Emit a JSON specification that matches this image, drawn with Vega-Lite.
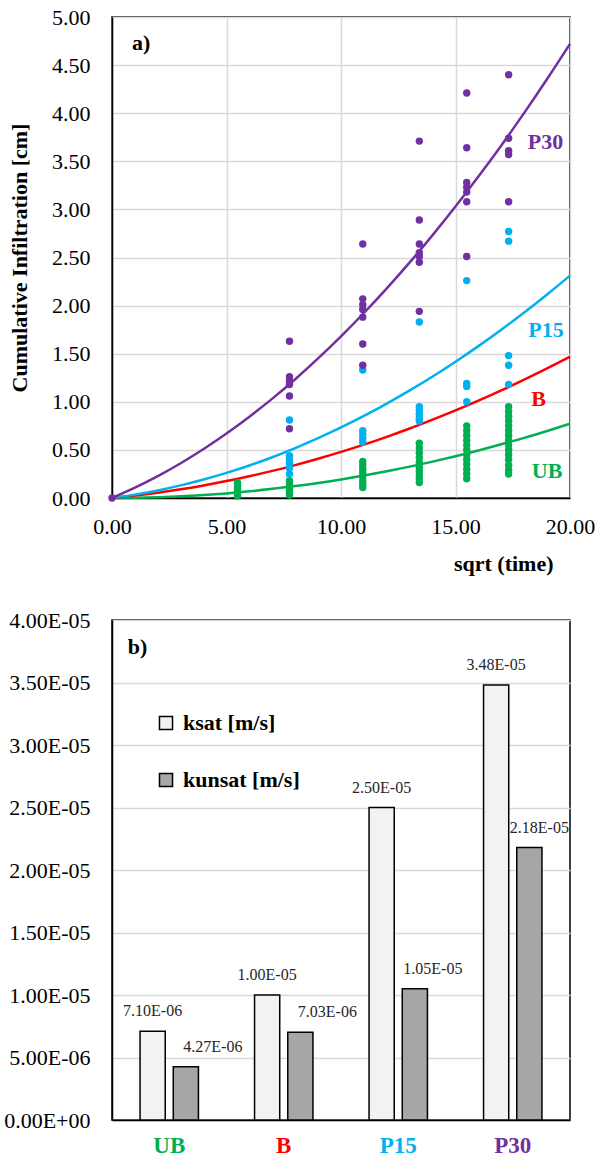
{
  "$schema": "https://vega.github.io/schema/vega-lite/v6.json",
  "background": "white",
  "padding": {"left": 2, "top": 5, "right": 5, "bottom": 0},
  "spacing": 33,
  "resolve": {"scale": {"color": "independent"}, "legend": {"color": "independent"}},
  "config": {
    "font": "Liberation Serif",
    "view": {"stroke": "black", "strokeWidth": 1.5},
    "axis": {
      "domainColor": "black", "domainWidth": 1.5, "ticks": false, "labelFlush": false,
      "gridColor": "#D9D9D9", "gridWidth": 1.5,
      "labelFont": "Liberation Serif", "labelFontSize": 22,
      "titleFont": "Liberation Serif", "titleFontSize": 22, "titleFontWeight": "bold", "titleColor": "black"
    }
  },
  "datasets": {
    "pts": [
      {"s":"UB","x":5.48,"y":0.16},{"s":"UB","x":5.48,"y":0.13},{"s":"UB","x":5.48,"y":0.10},{"s":"UB","x":5.48,"y":0.07},{"s":"UB","x":5.48,"y":0.04},{"s":"UB","x":5.48,"y":0.02},
      {"s":"UB","x":7.75,"y":0.18},{"s":"UB","x":7.75,"y":0.15},{"s":"UB","x":7.75,"y":0.12},{"s":"UB","x":7.75,"y":0.09},{"s":"UB","x":7.75,"y":0.06},{"s":"UB","x":7.75,"y":0.03},
      {"s":"UB","x":10.95,"y":0.38},{"s":"UB","x":10.95,"y":0.34},{"s":"UB","x":10.95,"y":0.30},{"s":"UB","x":10.95,"y":0.26},{"s":"UB","x":10.95,"y":0.22},{"s":"UB","x":10.95,"y":0.18},{"s":"UB","x":10.95,"y":0.14},{"s":"UB","x":10.95,"y":0.11},
      {"s":"UB","x":13.42,"y":0.57},{"s":"UB","x":13.42,"y":0.52},{"s":"UB","x":13.42,"y":0.47},{"s":"UB","x":13.42,"y":0.42},{"s":"UB","x":13.42,"y":0.37},{"s":"UB","x":13.42,"y":0.32},{"s":"UB","x":13.42,"y":0.28},{"s":"UB","x":13.42,"y":0.24},{"s":"UB","x":13.42,"y":0.20},{"s":"UB","x":13.42,"y":0.16},
      {"s":"UB","x":15.49,"y":0.75},{"s":"UB","x":15.49,"y":0.70},{"s":"UB","x":15.49,"y":0.65},{"s":"UB","x":15.49,"y":0.60},{"s":"UB","x":15.49,"y":0.55},{"s":"UB","x":15.49,"y":0.50},{"s":"UB","x":15.49,"y":0.45},{"s":"UB","x":15.49,"y":0.40},{"s":"UB","x":15.49,"y":0.35},{"s":"UB","x":15.49,"y":0.30},{"s":"UB","x":15.49,"y":0.25},{"s":"UB","x":15.49,"y":0.20},
      {"s":"UB","x":17.32,"y":0.95},{"s":"UB","x":17.32,"y":0.90},{"s":"UB","x":17.32,"y":0.85},{"s":"UB","x":17.32,"y":0.80},{"s":"UB","x":17.32,"y":0.75},{"s":"UB","x":17.32,"y":0.70},{"s":"UB","x":17.32,"y":0.65},{"s":"UB","x":17.32,"y":0.60},{"s":"UB","x":17.32,"y":0.55},{"s":"UB","x":17.32,"y":0.50},{"s":"UB","x":17.32,"y":0.45},{"s":"UB","x":17.32,"y":0.40},{"s":"UB","x":17.32,"y":0.34},{"s":"UB","x":17.32,"y":0.29},{"s":"UB","x":17.32,"y":0.25},
      {"s":"P15","x":7.75,"y":0.81},{"s":"P15","x":7.75,"y":0.44},{"s":"P15","x":7.75,"y":0.40},{"s":"P15","x":7.75,"y":0.36},{"s":"P15","x":7.75,"y":0.31},{"s":"P15","x":7.75,"y":0.25},
      {"s":"P15","x":10.95,"y":1.33},{"s":"P15","x":10.95,"y":0.70},{"s":"P15","x":10.95,"y":0.66},{"s":"P15","x":10.95,"y":0.62},{"s":"P15","x":10.95,"y":0.58},
      {"s":"P15","x":13.42,"y":1.83},{"s":"P15","x":13.42,"y":0.95},{"s":"P15","x":13.42,"y":0.91},{"s":"P15","x":13.42,"y":0.87},{"s":"P15","x":13.42,"y":0.83},{"s":"P15","x":13.42,"y":0.80},
      {"s":"P15","x":15.49,"y":2.26},{"s":"P15","x":15.49,"y":1.19},{"s":"P15","x":15.49,"y":1.16},{"s":"P15","x":15.49,"y":1.00},
      {"s":"P15","x":17.32,"y":2.77},{"s":"P15","x":17.32,"y":2.67},{"s":"P15","x":17.32,"y":1.48},{"s":"P15","x":17.32,"y":1.38},{"s":"P15","x":17.32,"y":1.18},
      {"s":"P30","x":0,"y":0},
      {"s":"P30","x":7.75,"y":1.63},{"s":"P30","x":7.75,"y":1.26},{"s":"P30","x":7.75,"y":1.22},{"s":"P30","x":7.75,"y":1.18},{"s":"P30","x":7.75,"y":1.06},{"s":"P30","x":7.75,"y":0.72},
      {"s":"P30","x":10.95,"y":2.64},{"s":"P30","x":10.95,"y":2.07},{"s":"P30","x":10.95,"y":2.01},{"s":"P30","x":10.95,"y":1.96},{"s":"P30","x":10.95,"y":1.88},{"s":"P30","x":10.95,"y":1.60},{"s":"P30","x":10.95,"y":1.38},
      {"s":"P30","x":13.42,"y":3.71},{"s":"P30","x":13.42,"y":2.89},{"s":"P30","x":13.42,"y":2.64},{"s":"P30","x":13.42,"y":2.55},{"s":"P30","x":13.42,"y":2.51},{"s":"P30","x":13.42,"y":2.45},{"s":"P30","x":13.42,"y":1.94},
      {"s":"P30","x":15.49,"y":4.21},{"s":"P30","x":15.49,"y":3.64},{"s":"P30","x":15.49,"y":3.28},{"s":"P30","x":15.49,"y":3.23},{"s":"P30","x":15.49,"y":3.18},{"s":"P30","x":15.49,"y":3.08},{"s":"P30","x":15.49,"y":2.51},
      {"s":"P30","x":17.32,"y":4.40},{"s":"P30","x":17.32,"y":3.74},{"s":"P30","x":17.32,"y":3.61},{"s":"P30","x":17.32,"y":3.57},{"s":"P30","x":17.32,"y":3.08}
    ],
    "curves": [
      {"s":"UB","x":0,"y":0},{"s":"UB","x":1,"y":0.002},{"s":"UB","x":2,"y":0.008},{"s":"UB","x":3,"y":0.017},{"s":"UB","x":4,"y":0.031},{"s":"UB","x":5,"y":0.048},{"s":"UB","x":6,"y":0.069},{"s":"UB","x":7,"y":0.095},{"s":"UB","x":8,"y":0.124},{"s":"UB","x":9,"y":0.156},{"s":"UB","x":10,"y":0.193},{"s":"UB","x":11,"y":0.234},{"s":"UB","x":12,"y":0.278},{"s":"UB","x":13,"y":0.326},{"s":"UB","x":14,"y":0.378},{"s":"UB","x":15,"y":0.434},{"s":"UB","x":16,"y":0.494},{"s":"UB","x":17,"y":0.558},{"s":"UB","x":18,"y":0.625},{"s":"UB","x":19,"y":0.697},{"s":"UB","x":20,"y":0.772},
      {"s":"B","x":0,"y":0},{"s":"B","x":1,"y":0.025},{"s":"B","x":2,"y":0.055},{"s":"B","x":3,"y":0.090},{"s":"B","x":4,"y":0.130},{"s":"B","x":5,"y":0.176},{"s":"B","x":6,"y":0.226},{"s":"B","x":7,"y":0.282},{"s":"B","x":8,"y":0.342},{"s":"B","x":9,"y":0.408},{"s":"B","x":10,"y":0.479},{"s":"B","x":11,"y":0.555},{"s":"B","x":12,"y":0.636},{"s":"B","x":13,"y":0.722},{"s":"B","x":14,"y":0.814},{"s":"B","x":15,"y":0.910},{"s":"B","x":16,"y":1.012},{"s":"B","x":17,"y":1.119},{"s":"B","x":18,"y":1.231},{"s":"B","x":19,"y":1.348},{"s":"B","x":20,"y":1.470},
      {"s":"P15","x":0,"y":0},{"s":"P15","x":1,"y":0.035},{"s":"P15","x":2,"y":0.079},{"s":"P15","x":3,"y":0.131},{"s":"P15","x":4,"y":0.192},{"s":"P15","x":5,"y":0.261},{"s":"P15","x":6,"y":0.338},{"s":"P15","x":7,"y":0.424},{"s":"P15","x":8,"y":0.519},{"s":"P15","x":9,"y":0.622},{"s":"P15","x":10,"y":0.733},{"s":"P15","x":11,"y":0.853},{"s":"P15","x":12,"y":0.981},{"s":"P15","x":13,"y":1.118},{"s":"P15","x":14,"y":1.263},{"s":"P15","x":15,"y":1.417},{"s":"P15","x":16,"y":1.579},{"s":"P15","x":17,"y":1.749},{"s":"P15","x":18,"y":1.928},{"s":"P15","x":19,"y":2.116},{"s":"P15","x":20,"y":2.312},
      {"s":"P30","x":0,"y":0},{"s":"P30","x":1,"y":0.107},{"s":"P30","x":2,"y":0.227},{"s":"P30","x":3,"y":0.361},{"s":"P30","x":4,"y":0.509},{"s":"P30","x":5,"y":0.670},{"s":"P30","x":6,"y":0.845},{"s":"P30","x":7,"y":1.033},{"s":"P30","x":8,"y":1.235},{"s":"P30","x":9,"y":1.451},{"s":"P30","x":10,"y":1.680},{"s":"P30","x":11,"y":1.923},{"s":"P30","x":12,"y":2.179},{"s":"P30","x":13,"y":2.449},{"s":"P30","x":14,"y":2.733},{"s":"P30","x":15,"y":3.030},{"s":"P30","x":16,"y":3.341},{"s":"P30","x":17,"y":3.665},{"s":"P30","x":18,"y":4.003},{"s":"P30","x":19,"y":4.355},{"s":"P30","x":20,"y":4.720}
    ],
    "tags": [
      {"s":"P30","x":18.93,"y":3.70},
      {"s":"P15","x":18.95,"y":1.75},
      {"s":"B","x":18.63,"y":1.03},
      {"s":"UB","x":19.0,"y":0.28}
    ],
    "bars": [
      {"site":"UB","param":"ksat [m/s]","k":7.10e-6,"label":"7.10E-06"},
      {"site":"UB","param":"kunsat [m/s]","k":4.27e-6,"label":"4.27E-06"},
      {"site":"B","param":"ksat [m/s]","k":1.00e-5,"label":"1.00E-05"},
      {"site":"B","param":"kunsat [m/s]","k":7.03e-6,"label":"7.03E-06"},
      {"site":"P15","param":"ksat [m/s]","k":2.50e-5,"label":"2.50E-05"},
      {"site":"P15","param":"kunsat [m/s]","k":1.05e-5,"label":"1.05E-05"},
      {"site":"P30","param":"ksat [m/s]","k":3.48e-5,"label":"3.48E-05"},
      {"site":"P30","param":"kunsat [m/s]","k":2.18e-5,"label":"2.18E-05"}
    ]
  },
  "vconcat": [
    {
      "width": 458,
      "height": 481,
      "encoding": {
        "x": {"field": "x", "type": "quantitative",
          "scale": {"domain": [0, 20], "nice": false},
          "axis": {"title": "sqrt (time)", "values": [0, 5, 10, 15, 20], "format": ".2f", "labelColor": "black", "labelPadding": 18, "titlePadding": 16, "titleX": 441, "titleAlign": "right", "titleAnchor": "end"}},
        "y": {"field": "y", "type": "quantitative",
          "scale": {"domain": [0, 5], "nice": false},
          "axis": {"title": "Cumulative Infiltration [cm]", "values": [0, 0.5, 1, 1.5, 2, 2.5, 3, 3.5, 4, 4.5, 5], "format": ".2f", "labelColor": "black", "labelPadding": 22, "titlePadding": 20}}
      },
      "layer": [
        {
          "data": {"name": "curves"},
          "mark": {"type": "line", "strokeWidth": 2.5, "interpolate": "monotone"},
          "encoding": {
            "color": {"field": "s", "type": "nominal", "scale": {"domain": ["UB", "B", "P15", "P30"], "range": ["#00B050", "#FF0000", "#00B0F0", "#7030A0"]}, "legend": null}
          }
        },
        {
          "data": {"name": "pts"},
          "mark": {"type": "circle", "size": 55, "opacity": 1},
          "encoding": {
            "color": {"field": "s", "type": "nominal", "legend": null}
          }
        },
        {
          "data": {"name": "tags"},
          "mark": {"type": "text", "fontSize": 22, "fontWeight": "bold", "font": "Liberation Serif", "baseline": "middle"},
          "encoding": {
            "text": {"field": "s"},
            "color": {"field": "s", "type": "nominal", "legend": null}
          }
        },
        {
          "data": {"values": [{"x": 0.87, "y": 4.73, "t": "a)"}]},
          "mark": {"type": "text", "fontSize": 22, "fontWeight": "bold", "font": "Liberation Serif", "align": "left", "baseline": "middle", "color": "black"},
          "encoding": {"text": {"field": "t"}}
        }
      ]
    },
    {
      "width": 458,
      "height": 500,
      "data": {"name": "bars"},
      "encoding": {
        "x": {"field": "site", "type": "nominal", "sort": ["UB", "B", "P15", "P30"],
          "scale": {"paddingInner": 0.49, "paddingOuter": 0.245},
          "axis": {"title": null, "labelAngle": 0, "labelFontSize": 23, "labelFontWeight": "bold", "labelPadding": 14, "grid": false,
            "labelColor": {"condition": [
              {"test": "datum.value === 'UB'", "value": "#00B050"},
              {"test": "datum.value === 'B'", "value": "#FF0000"},
              {"test": "datum.value === 'P15'", "value": "#00B0F0"}
            ], "value": "#7030A0"}}},
        "xOffset": {"field": "param", "type": "nominal", "sort": ["ksat [m/s]", "kunsat [m/s]"], "scale": {"paddingInner": 0.242, "paddingOuter": 0}},
        "y": {"field": "k", "type": "quantitative",
          "scale": {"domain": [0, 4e-5], "nice": false},
          "axis": {"title": null, "values": [0, 5e-6, 1e-5, 1.5e-5, 2e-5, 2.5e-5, 3e-5, 3.5e-5, 4e-5], "labelPadding": 22, "labelColor": "black",
            "labelExpr": "datum.value == 0 ? '0.00E+00' : (datum.value < 9.99e-6 ? format(datum.value * 1e6, '.2f') + 'E-06' : format(datum.value * 1e5, '.2f') + 'E-05')"}}
      },
      "layer": [
        {
          "mark": {"type": "bar", "stroke": "black", "strokeWidth": 1.5},
          "encoding": {
            "color": {"field": "param", "type": "nominal",
              "scale": {"domain": ["ksat [m/s]", "kunsat [m/s]"], "range": ["#F2F2F2", "#A6A6A6"]},
              "legend": {"title": null, "orient": "none", "legendX": 43, "legendY": 92, "symbolType": "square", "symbolSize": 170,
                "symbolStrokeColor": "black", "symbolStrokeWidth": 1.5, "labelFont": "Liberation Serif", "labelFontSize": 22,
                "labelFontWeight": "bold", "labelColor": "black", "rowPadding": 35, "labelOffset": 6}}
          }
        },
        {
          "transform": [{"filter": "datum.param === 'ksat [m/s]'"}],
          "mark": {"type": "text", "baseline": "alphabetic", "dy": -15, "fontSize": 16, "font": "Liberation Serif", "color": "#262626"},
          "encoding": {"text": {"field": "label"}}
        },
        {
          "transform": [{"filter": "datum.param === 'kunsat [m/s]' && (datum.site === 'UB' || datum.site === 'B')"}],
          "mark": {"type": "text", "baseline": "alphabetic", "dy": -15, "dx": 27, "fontSize": 16, "font": "Liberation Serif", "color": "#262626"},
          "encoding": {"text": {"field": "label"}}
        },
        {
          "transform": [{"filter": "datum.param === 'kunsat [m/s]' && datum.site === 'P15'"}],
          "mark": {"type": "text", "baseline": "alphabetic", "dy": -15, "dx": 18, "fontSize": 16, "font": "Liberation Serif", "color": "#262626"},
          "encoding": {"text": {"field": "label"}}
        },
        {
          "transform": [{"filter": "datum.param === 'kunsat [m/s]' && datum.site === 'P30'"}],
          "mark": {"type": "text", "baseline": "alphabetic", "dy": -15, "dx": 10, "fontSize": 16, "font": "Liberation Serif", "color": "#262626"},
          "encoding": {"text": {"field": "label"}}
        },
        {
          "data": {"values": [{"site": "UB", "param": "ksat [m/s]", "k": 3.784e-5, "t": "b)"}]},
          "mark": {"type": "text", "fontSize": 22, "fontWeight": "bold", "font": "Liberation Serif", "baseline": "middle", "dx": -15, "color": "black"},
          "encoding": {"text": {"field": "t"}}
        }
      ]
    }
  ]
}
